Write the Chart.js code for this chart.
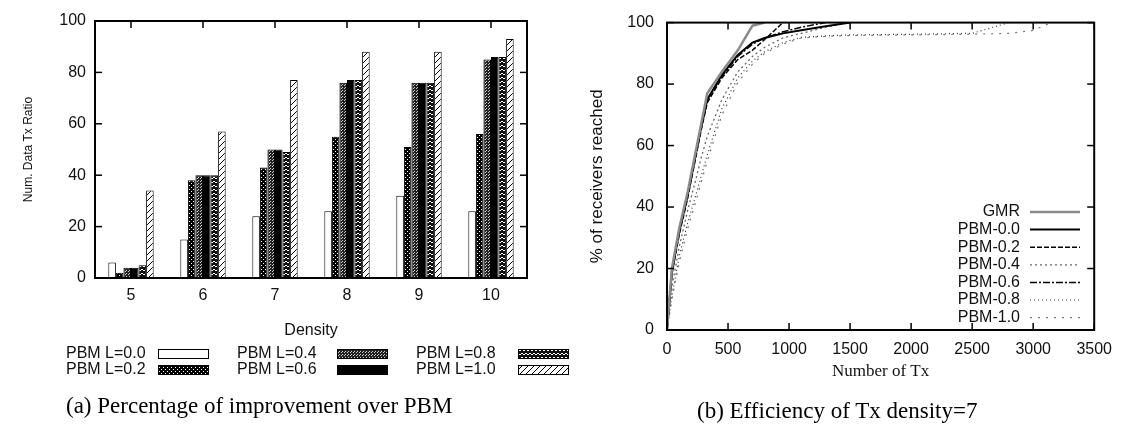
<!DOCTYPE html>
<html>
<head>
<meta charset="utf-8">
<script src="https://cdn.jsdelivr.net/npm/chart.js@4.4.0/dist/chart.umd.min.js"></script>
<style>
  body { margin: 0; background: #fff; width: 1122px; height: 427px; position: relative; overflow: hidden; }
  #left { position: absolute; left: 0; top: 0; }
  #right { position: absolute; left: 560px; top: 0; }
  .cap { position: absolute; font-family: "Liberation Serif", "DejaVu Serif", serif; font-size: 23px; color: #000; white-space: nowrap; }
</style>
</head>
<body>
<canvas id="left" width="575" height="427"></canvas>
<canvas id="right" width="562" height="427"></canvas>
<div class="cap" style="left:66px;top:393px">(a) Percentage of improvement over PBM</div>
<div class="cap" style="left:697px;top:398px">(b) Efficiency of Tx density=7</div>
<script>
// (a) bar chart data
const densities = ['5', '6', '7', '8', '9', '10'];
const barLabels = ['PBM L=0.0', 'PBM L=0.2', 'PBM L=0.4', 'PBM L=0.6', 'PBM L=0.8', 'PBM L=1.0'];
const ratioL00 = [6, 15, 24, 26, 32, 26];
const ratioL02 = [2, 38, 43, 55, 51, 56];
const ratioL04 = [4, 40, 50, 76, 76, 85];
const ratioL06 = [4, 40, 50, 77, 76, 86];
const ratioL08 = [5, 40, 49, 77, 76, 86];
const ratioL10 = [34, 57, 77, 88, 88, 93];

// (b) line chart data
const lineLabels = ['GMR', 'PBM-0.0', 'PBM-0.2', 'PBM-0.4', 'PBM-0.6', 'PBM-0.8', 'PBM-1.0'];
const txCount = [0, 40, 100, 170, 230, 280, 330, 450, 580, 700, 800, 950, 1100, 1300, 1500, 2000, 2500, 2800, 3000, 3150];
const reachGMR = [0, 20, 33, 45, 57, 67, 77, 84, 91, 99, 100];
const reach00 = [0, 19, 32, 44, 56, 66, 75, 83, 89.5, 93.5, 95, 96.5, 97.5, 98.8, 100];
const reach02 = [0, 18, 31, 43, 55, 65, 74, 82, 88, 91, 94.5, 100];
const reach04 = [0, 14, 27, 39, 48, 56, 63, 75, 84, 89, 92, 95, 96.5, 98.5, 100];
const reach06 = [0, 19, 32, 44, 56, 66, 75, 82.5, 89, 93, 95, 97, 98.5, 100];
const reach08 = [0, 11, 24, 35, 43, 50, 57, 72, 82, 87.5, 90.5, 93.5, 95.2, 95.7, 96, 96.2, 96.5, 100];
const reach10 = [0, 10, 22, 33, 41, 48, 55, 70, 80.5, 86.5, 90, 93, 95, 95.5, 95.8, 96, 96.2, 96.5, 97.5, 100];

Chart.defaults.font.family = '"Liberation Sans", Arial, sans-serif';
Chart.defaults.font.size = 16;
Chart.defaults.color = '#111';

function pattern(w, h, paint) {
  const c = document.createElement('canvas');
  c.width = w; c.height = h;
  const g = c.getContext('2d');
  paint(g);
  return g.createPattern(c, 'repeat');
}

const fills = [
  '#fff',
  pattern(4, 4, g => { g.fillStyle = '#000'; g.fillRect(0, 0, 4, 4); g.fillStyle = '#fff'; g.fillRect(1, 1, 1, 1); g.fillRect(3, 3, 1, 1); }),
  pattern(3, 3, g => { g.fillStyle = '#222'; g.fillRect(0, 0, 3, 3); g.fillStyle = '#ccc'; g.fillRect(0, 0, 1, 1); g.fillRect(2, 1, 1, 1); }),
  '#000',
  pattern(8, 4, g => {
    g.fillStyle = '#111'; g.fillRect(0, 0, 8, 4);
    g.strokeStyle = '#fff'; g.lineWidth = 1;
    g.beginPath(); g.moveTo(0, 3); g.lineTo(2, 1); g.lineTo(4, 3); g.lineTo(6, 1); g.lineTo(8, 3); g.stroke();
  }),
  pattern(6, 6, g => {
    g.fillStyle = '#fff'; g.fillRect(0, 0, 6, 6);
    g.strokeStyle = '#000'; g.lineWidth = 1;
    g.beginPath(); g.moveTo(0, 6); g.lineTo(6, 0); g.stroke();
  })
];

function line(ctx, x1, y1, x2, y2) {
  ctx.beginPath(); ctx.moveTo(x1, y1); ctx.lineTo(x2, y2); ctx.stroke();
}

// gnuplot style box with inward ticks on all sides
const framePlugin = {
  id: 'frame',
  afterDatasetsDraw(chart) {
    const { ctx, chartArea: a, scales } = chart;
    ctx.save();
    ctx.strokeStyle = '#000';
    ctx.setLineDash([]);
    ctx.lineWidth = 2;
    ctx.strokeRect(a.left, a.top, a.right - a.left, a.bottom - a.top);
    ctx.lineWidth = 1.5;
    scales.y.ticks.forEach(t => {
      const py = scales.y.getPixelForValue(t.value);
      line(ctx, a.left, py, a.left + 7, py);
      line(ctx, a.right - 7, py, a.right, py);
    });
    scales.x.ticks.forEach((t, i) => {
      const px = scales.x.getPixelForTick(i);
      line(ctx, px, a.bottom, px, a.bottom - 7);
      line(ctx, px, a.top, px, a.top + 7);
    });
    ctx.restore();
  }
};

const barLegend = {
  id: 'barLegend',
  afterDraw(chart) {
    const ctx = chart.ctx;
    const textX = [66, 237, 416], boxX = [158, 337, 518], rowY = [354, 370];
    ctx.save();
    ctx.font = '16px "Liberation Sans", Arial, sans-serif';
    ctx.textBaseline = 'middle';
    chart.data.datasets.forEach((ds, i) => {
      const col = Math.floor(i / 2), row = i % 2;
      ctx.fillStyle = '#111';
      ctx.fillText(ds.label, textX[col], rowY[row]);
      ctx.fillStyle = ds.backgroundColor;
      ctx.fillRect(boxX[col], rowY[row] - 4, 50, 8);
      ctx.strokeStyle = '#000'; ctx.lineWidth = 1;
      ctx.strokeRect(boxX[col] + 0.5, rowY[row] - 4.5, 50, 9);
    });
    ctx.restore();
  }
};

const lineLegend = {
  id: 'lineLegend',
  afterDraw(chart) {
    const ctx = chart.ctx;
    ctx.save();
    ctx.font = '16px "Liberation Sans", Arial, sans-serif';
    ctx.textAlign = 'right';
    ctx.textBaseline = 'middle';
    chart.data.datasets.forEach((ds, i) => {
      const y = 212 + i * 17.6;
      ctx.fillStyle = '#111';
      ctx.fillText(ds.label, 460, y);
      ctx.strokeStyle = ds.borderColor;
      ctx.lineWidth = ds.borderWidth;
      ctx.setLineDash(ds.borderDash || []);
      line(ctx, 470, y, 520, y);
    });
    ctx.restore();
  }
};

const noGrid = { display: false, drawTicks: false, tickLength: 0 };
const barData = [ratioL00, ratioL02, ratioL04, ratioL06, ratioL08, ratioL10];

new Chart(document.getElementById('left'), {
  type: 'bar',
  data: {
    labels: densities,
    datasets: barData.map((d, i) => ({
      label: barLabels[i],
      data: d,
      backgroundColor: fills[i],
      borderColor: '#000',
      borderWidth: 1,
      borderSkipped: false,
      barPercentage: 1,
      categoryPercentage: 0.63
    }))
  },
  options: {
    responsive: false,
    animation: false,
    devicePixelRatio: 1,
    layout: { padding: { top: 21, right: 48, bottom: 87, left: 0 } },
    plugins: { legend: { display: false }, tooltip: { enabled: false } },
    scales: {
      x: {
        grid: noGrid,
        border: { display: false },
        ticks: { padding: 8, color: '#111' },
        title: { display: true, text: 'Density', color: '#111', font: { size: 16 }, padding: { top: 0, bottom: 0 } },
        afterFit: s => { s.height = 62; }
      },
      y: {
        min: 0, max: 100,
        grid: noGrid,
        border: { display: false },
        ticks: { stepSize: 20, padding: 9, color: '#111' },
        title: { display: true, text: 'Num. Data Tx Ratio', color: '#111', font: { size: 12 }, padding: { top: 21, bottom: 0 } },
        afterFit: s => { s.width = 95; }
      }
    }
  },
  plugins: [framePlugin, barLegend]
});

const reachData = [reachGMR, reach00, reach02, reach04, reach06, reach08, reach10];
const lineStyles = [
  { color: '#8a8a8a', width: 2.5, dash: [] },
  { color: '#000', width: 2, dash: [] },
  { color: '#000', width: 1.5, dash: [5, 2] },
  { color: '#666', width: 1.3, dash: [2, 3] },
  { color: '#000', width: 1.5, dash: [7, 2, 2, 2] },
  { color: '#333', width: 1.2, dash: [1, 3] },
  { color: '#777', width: 1.2, dash: [2, 6] }
];

new Chart(document.getElementById('right'), {
  type: 'line',
  data: {
    datasets: reachData.map((ys, i) => ({
      label: lineLabels[i],
      data: ys.map((y, j) => ({ x: txCount[j], y: y })),
      borderColor: lineStyles[i].color,
      borderWidth: lineStyles[i].width,
      borderDash: lineStyles[i].dash,
      pointRadius: 0,
      tension: 0,
      fill: false
    }))
  },
  options: {
    responsive: false,
    animation: false,
    devicePixelRatio: 1,
    layout: { padding: { top: 21, right: 25, bottom: 45, left: 0 } },
    plugins: { legend: { display: false }, tooltip: { enabled: false } },
    scales: {
      x: {
        type: 'linear', min: 0, max: 3500,
        grid: noGrid,
        border: { display: false },
        ticks: { stepSize: 500, padding: 10, color: '#111', maxRotation: 0, callback: v => String(v) },
        title: { display: true, text: 'Number of Tx', color: '#111', font: { family: '"Liberation Serif", serif', size: 17 }, padding: { top: 0, bottom: 0 } },
        afterFit: s => { s.height = 52; }
      },
      y: {
        min: 0, max: 100,
        grid: noGrid,
        border: { display: false },
        ticks: { stepSize: 20, padding: 13, color: '#111' },
        title: { display: true, text: '% of receivers reached', color: '#111', font: { size: 17 }, padding: { top: 27, bottom: 0 } },
        afterFit: s => { s.width = 107; }
      }
    }
  },
  plugins: [framePlugin, lineLegend]
});
</script>
</body>
</html>
